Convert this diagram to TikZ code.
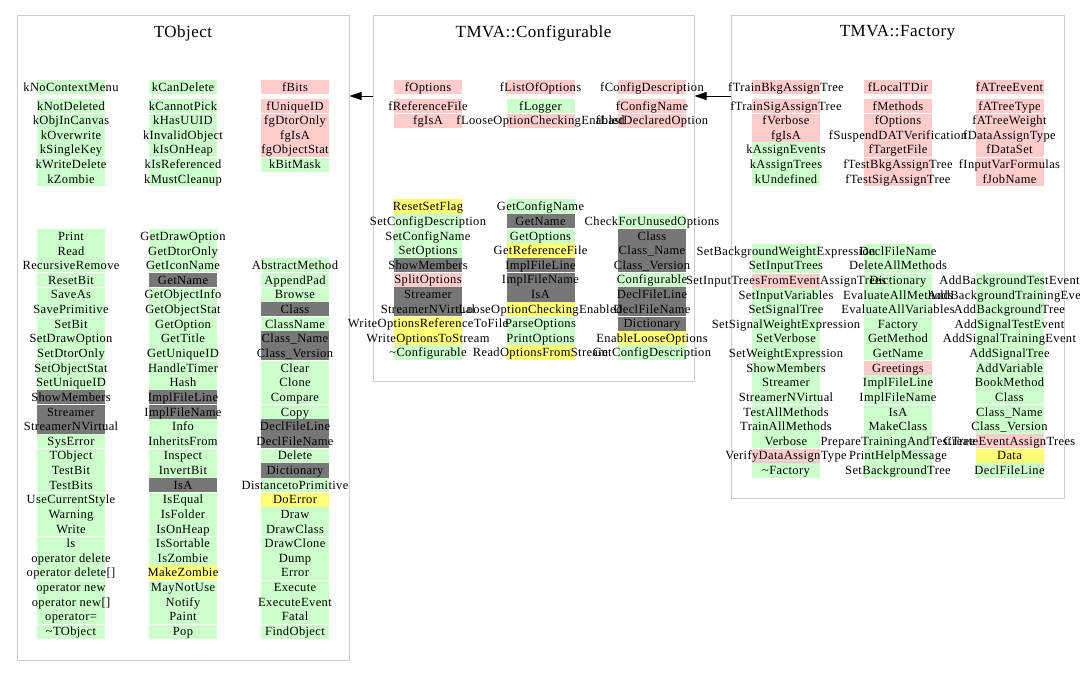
\documentclass[tikz,border=0pt]{standalone}
\usepackage{fontspec}
\setmainfont{Liberation Serif}
\newfontfamily\lblfont[LetterSpace=3]{Liberation Serif}
\usetikzlibrary{arrows.meta}
\definecolor{cG}{RGB}{204,255,204}
\definecolor{cP}{RGB}{255,204,204}
\definecolor{cY}{RGB}{255,255,119}
\definecolor{cD}{RGB}{119,119,119}
\definecolor{cN}{RGB}{255,255,255}
\definecolor{cbox}{RGB}{204,204,204}
\tikzset{
  cluster/.style={draw=cbox,line width=1pt,inner sep=0pt,fill=none},
  title/.style={inner sep=0pt,font=\lblfont\fontsize{17pt}{20pt}\selectfont},
  lbl/.style={inner sep=0pt,text height=10pt,text depth=1.7pt,font=\lblfont\fontsize{12.5pt}{14pt}\selectfont},
  arr/.style={draw=black,line width=0.8pt,-{Triangle[length=12pt,width=8pt]}}
}
% #1 name, #2 x, #3 y0, #4 pitch, #5 start row, #6 group residue, #7 list
\newcommand\colfill[7]{%
  \foreach \c/\t [count=\i from #5] in #7 {
    \fill[\c] ({#2-34},{#3+\i*#4-7.3}) rectangle ({#2+34},{#3+\i*#4+7.3});
  }
  \foreach \c/\t [count=\i from #5] in #7 {
    \pgfmathtruncatemacro\m{mod(\i,3)}
    \ifnum\m=#6\relax\ifnum\i>#5\relax
      \draw[white,line width=0.9pt] ({#2-34},{#3+\i*#4-7.3}) -- ({#2+34},{#3+\i*#4-7.3});
    \fi\fi
  }
}
\newcommand\coltext[7]{%
  \foreach \c/\t [count=\i from #5] in #7 {
    \node[lbl] (#1-\i) at (#2,{#3+\i*#4}) {\t};
  }
}
% TObject
\def\TOaA{cG/kNoContextMenu}
\def\TObA{cG/kCanDelete}
\def\TOcA{cP/fBits}
\def\TOaK{cG/kNotDeleted,cG/kObjInCanvas,cG/kOverwrite,cG/kSingleKey,cG/kWriteDelete,cG/kZombie}
\def\TObK{cG/kCannotPick,cG/kHasUUID,cG/kInvalidObject,cG/kIsOnHeap,cG/kIsReferenced,cG/kMustCleanup}
\def\TOcK{cP/fUniqueID,cP/fgDtorOnly,cP/fgIsA,cP/fgObjectStat,cG/kBitMask}
\def\TOaL{cG/Print,cG/Read,cG/RecursiveRemove,cG/ResetBit,cG/SaveAs,cG/SavePrimitive,cG/SetBit,cG/SetDrawOption,cG/SetDtorOnly,cG/SetObjectStat,cG/SetUniqueID,cD/ShowMembers,cD/Streamer,cD/StreamerNVirtual,cG/SysError,cG/TObject,cG/TestBit,cG/TestBits,cG/UseCurrentStyle,cG/Warning,cG/Write,cG/ls,cG/operator delete,cG/operator delete[],cG/operator new,cG/operator new[],cG/operator=,cG/\textasciitilde TObject}
\def\TObL{cG/GetDrawOption,cG/GetDtorOnly,cG/GetIconName,cD/GetName,cG/GetObjectInfo,cG/GetObjectStat,cG/GetOption,cG/GetTitle,cG/GetUniqueID,cG/HandleTimer,cG/Hash,cD/ImplFileLine,cD/ImplFileName,cG/Info,cG/InheritsFrom,cG/Inspect,cG/InvertBit,cD/IsA,cG/IsEqual,cG/IsFolder,cG/IsOnHeap,cG/IsSortable,cG/IsZombie,cY/MakeZombie,cG/MayNotUse,cG/Notify,cG/Paint,cG/Pop}
\def\TOcL{cG/AbstractMethod,cG/AppendPad,cG/Browse,cD/Class,cG/ClassName,cD/Class\_Name,cD/Class\_Version,cG/Clear,cG/Clone,cG/Compare,cG/Copy,cD/DeclFileLine,cD/DeclFileName,cG/Delete,cD/Dictionary,cG/DistancetoPrimitive,cY/DoError,cG/Draw,cG/DrawClass,cG/DrawClone,cG/Dump,cG/Error,cG/Execute,cG/ExecuteEvent,cG/Fatal,cG/FindObject}
% Configurable
\def\CFaA{cP/fOptions}
\def\CFbA{cP/fListOfOptions}
\def\CFcA{cP/fConfigDescription}
\def\CFaK{cP/fReferenceFile,cP/fgIsA}
\def\CFbK{cG/fLogger,cP/fLooseOptionCheckingEnabled}
\def\CFcK{cP/fConfigName,cP/fLastDeclaredOption}
\def\CFaL{cY/ResetSetFlag,cG/SetConfigDescription,cG/SetConfigName,cG/SetOptions,cD/ShowMembers,cP/SplitOptions,cD/Streamer,cD/StreamerNVirtual,cY/WriteOptionsReferenceToFile,cY/WriteOptionsToStream,cG/\textasciitilde Configurable}
\def\CFbL{cG/GetConfigName,cD/GetName,cG/GetOptions,cY/GetReferenceFile,cD/ImplFileLine,cD/ImplFileName,cD/IsA,cY/LooseOptionCheckingEnabled,cG/ParseOptions,cG/PrintOptions,cY/ReadOptionsFromStream}
\def\CFcL{cG/CheckForUnusedOptions,cD/Class,cD/Class\_Name,cD/Class\_Version,cG/Configurable,cD/DeclFileLine,cD/DeclFileName,cD/Dictionary,cY/EnableLooseOptions,cG/GetConfigDescription}
% Factory
\def\FAaA{cP/fTrainBkgAssignTree}
\def\FAbA{cP/fLocalTDir}
\def\FAcA{cP/fATreeEvent}
\def\FAaK{cP/fTrainSigAssignTree,cP/fVerbose,cP/fgIsA,cG/kAssignEvents,cG/kAssignTrees,cG/kUndefined}
\def\FAbK{cP/fMethods,cP/fOptions,cP/fSuspendDATVerification,cP/fTargetFile,cP/fTestBkgAssignTree,cP/fTestSigAssignTree}
\def\FAcK{cP/fATreeType,cP/fATreeWeight,cP/fDataAssignType,cP/fDataSet,cP/fInputVarFormulas,cP/fJobName}
\def\FAaL{cG/SetBackgroundWeightExpression,cG/SetInputTrees,cP/SetInputTreesFromEventAssignTrees,cG/SetInputVariables,cG/SetSignalTree,cG/SetSignalWeightExpression,cG/SetVerbose,cG/SetWeightExpression,cG/ShowMembers,cG/Streamer,cG/StreamerNVirtual,cG/TestAllMethods,cG/TrainAllMethods,cG/Verbose,cP/VerifyDataAssignType,cG/\textasciitilde Factory}
\def\FAbL{cG/DeclFileName,cG/DeleteAllMethods,cG/Dictionary,cG/EvaluateAllMethods,cG/EvaluateAllVariables,cG/Factory,cG/GetMethod,cG/GetName,cP/Greetings,cG/ImplFileLine,cG/ImplFileName,cG/IsA,cG/MakeClass,cG/PrepareTrainingAndTestTree,cG/PrintHelpMessage,cG/SetBackgroundTree}
\def\FAcL{cG/AddBackgroundTestEvent,cG/AddBackgroundTrainingEvent,cG/AddBackgroundTree,cG/AddSignalTestEvent,cG/AddSignalTrainingEvent,cG/AddSignalTree,cG/AddVariable,cG/BookMethod,cG/Class,cG/Class\_Name,cG/Class\_Version,cP/CreateEventAssignTrees,cY/Data,cG/DeclFileLine}
\newcommand\allcols{%
  \COL{toaA}{71}{87}{14.6}{0}{9}{\TOaA}
  \COL{tobA}{183}{87}{14.6}{0}{9}{\TObA}
  \COL{tocA}{295}{87}{14.6}{0}{9}{\TOcA}
  \COL{toaK}{71}{106}{14.6}{0}{1}{\TOaK}
  \COL{tobK}{183}{106}{14.6}{0}{1}{\TObK}
  \COL{tocK}{295}{106}{14.6}{0}{1}{\TOcK}
  \COL{toaL}{71}{236.3}{14.63}{0}{0}{\TOaL}
  \COL{tobL}{183}{236.3}{14.63}{0}{0}{\TObL}
  \COL{tocL}{295}{236.3}{14.63}{2}{0}{\TOcL}
  \COL{cfaA}{428}{87}{14.6}{0}{9}{\CFaA}
  \COL{cfbA}{540.5}{87}{14.6}{0}{9}{\CFbA}
  \COL{cfcA}{652}{87}{14.6}{0}{9}{\CFcA}
  \COL{cfaK}{428}{106}{14.6}{0}{1}{\CFaK}
  \COL{cfbK}{540.5}{106}{14.6}{0}{1}{\CFbK}
  \COL{cfcK}{652}{106}{14.6}{0}{1}{\CFcK}
  \COL{cfaL}{428}{206.7}{14.6}{0}{2}{\CFaL}
  \COL{cfbL}{540.5}{206.7}{14.6}{0}{2}{\CFbL}
  \COL{cfcL}{652}{206.7}{14.6}{1}{2}{\CFcL}
  \COL{faaA}{786}{87}{14.6}{0}{9}{\FAaA}
  \COL{fabA}{898}{87}{14.6}{0}{9}{\FAbA}
  \COL{facA}{1009.5}{87}{14.6}{0}{9}{\FAcA}
  \COL{faaK}{786}{106}{14.6}{0}{1}{\FAaK}
  \COL{fabK}{898}{106}{14.6}{0}{1}{\FAbK}
  \COL{facK}{1009.5}{106}{14.6}{0}{1}{\FAcK}
  \COL{faaL}{786}{251}{14.63}{0}{2}{\FAaL}
  \COL{fabL}{898}{251}{14.63}{0}{2}{\FAbL}
  \COL{facL}{1009.5}{251}{14.63}{2}{2}{\FAcL}
}
\begin{document}
\begin{tikzpicture}[x=1pt,y=-1pt]
\useasboundingbox (0,0) rectangle (1080,687);
\fill[white] (0,0) rectangle (1080,687);
% clusters
\node[cluster,minimum width=332pt,minimum height=644pt] (tobj) at (183,338) {};
\node[cluster,minimum width=321pt,minimum height=365pt] (conf) at (533.5,198.5) {};
\node[cluster,minimum width=333pt,minimum height=482pt] (fact) at (897.5,257) {};
\node[title] (tobj-t) at (183,33) {TObject};
\node[title] (conf-t) at (533.5,33) {TMVA::Configurable};
\node[title] (fact-t) at (897.5,33) {TMVA::Factory};
% cells
\let\COL\colfill
\allcols
\let\COL\coltext
\allcols
% inheritance arrows
\coordinate (ay) at (0,96);
\draw[arr] (conf.west |- ay) -- (tobj.east |- ay);
\draw[arr] (fact.west |- ay) -- (conf.east |- ay);
\end{tikzpicture}
\end{document}
